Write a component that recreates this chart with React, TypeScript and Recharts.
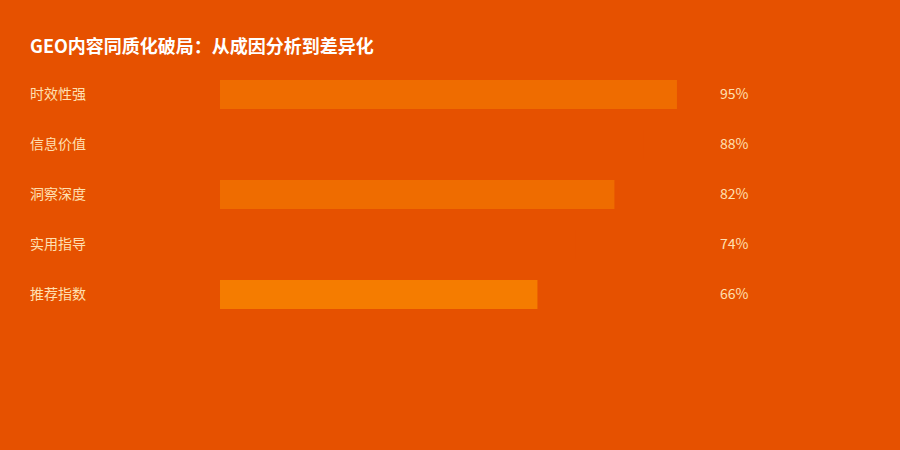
import React from 'react';
import { BarChart, Bar, XAxis, YAxis, Cell } from 'recharts';

const categories = ['时效性强', '信息价值', '洞察深度', '实用指导', '推荐指数'];
const scores = [95, 88, 82, 74, 66];
const barColors = ['#EF6C00', '#E65100', '#EF6C00', '#E65100', '#F57C00'];

const FONT = '"Noto Sans CJK SC", "Noto Sans", sans-serif';
const BG = '#E65100';
const LABEL = '#FFE0B2';

const data = categories.map((name, i) => ({ name, value: scores[i] }));

const LeftTick = (props: any) => {
    const { y, payload } = props;
    return (
        <text x={30} y={y} dy={5} textAnchor="start" fill={LABEL} fontSize={14} fontFamily={FONT}>
            {payload.value}
        </text>
    );
};

const RightTick = (props: any) => {
    const { x, y, payload } = props;
    const idx = categories.indexOf(payload.value);
    return (
        <text x={x} y={y} dy={5} textAnchor="start" fill={LABEL} fontSize={14} fontFamily={FONT}>
            {`${scores[idx]}%`}
        </text>
    );
};

const App: React.FC = () => {
    return (
        <div style={{ position: 'relative', width: 900, height: 450, background: BG, overflow: 'hidden' }}>
            <style>{`body{margin:0}`}</style>
            <div
                style={{
                    position: 'absolute',
                    left: 30,
                    top: 32,
                    color: '#ffffff',
                    fontFamily: FONT,
                    fontWeight: 700,
                    fontSize: 18,
                    lineHeight: '26px',
                }}
            >
                GEO内容同质化破局：从成因分析到差异化
            </div>
            <BarChart
                width={900}
                height={450}
                data={data}
                layout="vertical"
                margin={{ top: 69, right: 0, bottom: 131, left: 30 }}
                barCategoryGap={0}
            >
                <XAxis type="number" domain={[0, 100]} hide />
                <YAxis
                    type="category"
                    dataKey="name"
                    width={190}
                    axisLine={false}
                    tickLine={false}
                    tick={<LeftTick />}
                />
                <YAxis
                    yAxisId="right"
                    orientation="right"
                    type="category"
                    dataKey="name"
                    width={199}
                    axisLine={false}
                    tickLine={false}
                    tickMargin={13}
                    tick={<RightTick />}
                />
                <Bar dataKey="value" barSize={29} isAnimationActive={false}>
                    {data.map((entry, index) => (
                        <Cell key={`cell-${index}`} fill={barColors[index % barColors.length]} />
                    ))}
                </Bar>
            </BarChart>
        </div>
    );
};

export default App;
